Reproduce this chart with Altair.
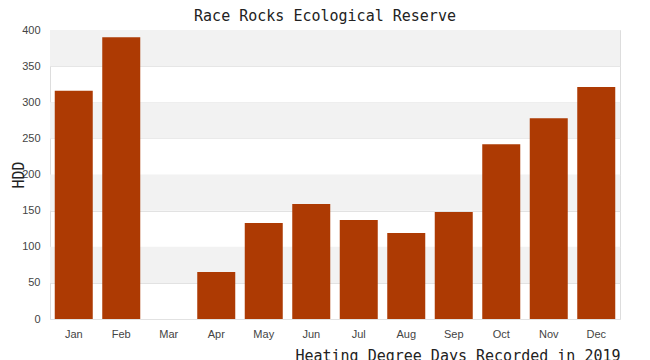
import altair as alt
import pandas as pd

months = ["Jan", "Feb", "Mar", "Apr", "May", "Jun", "Jul", "Aug", "Sep", "Oct", "Nov", "Dec"]
hdd = [316, 390, 0, 65, 133, 159, 137, 119, 148, 242, 278, 321]
y_ticks = [0, 50, 100, 150, 200, 250, 300, 350, 400]
band_lo = [50, 150, 250, 350]
band_hi = [100, 200, 300, 400]

df = pd.DataFrame({"month": months, "hdd": hdd})
bands = pd.DataFrame({"lo": band_lo, "hi": band_hi})

W, H = 570, 289
mono = "DejaVu Sans Mono"

yscale = alt.Scale(domain=[0, 400])
yaxis = alt.Axis(
    title="HDD",
    titleFont=mono,
    titleFontSize=15,
    titleFontWeight="normal",
    titleColor="#222",
    titleX=-32,
    titleY=H / 2,
    titleAngle=-90,
    titleAlign="center",
    titleBaseline="middle",
    values=y_ticks,
    labelOverlap=False,
    labelFont="Liberation Sans",
    labelFontSize=11,
    labelColor="#444",
    ticks=False,
    domain=False,
    labelPadding=10,
    grid=True,
    gridColor="#e2e2e2",
)

band_layer = alt.Chart(bands).mark_rect(color="#f2f2f2").encode(
    x=alt.value(0),
    x2=alt.value(W),
    y=alt.Y("lo:Q", scale=yscale, axis=yaxis),
    y2="hi:Q",
)

bars = alt.Chart(df).mark_bar(color="#ad3a03").encode(
    x=alt.X(
        "month:N",
        sort=months,
        scale=alt.Scale(paddingInner=0.2, paddingOuter=0.1),
        axis=alt.Axis(
            title="Heating Degree Days Recorded in 2019",
            titleFont=mono,
            titleFontSize=15,
            titleFontWeight="normal",
            titleColor="#222",
            titleAnchor="end",
            titleAlign="right",
            titleBaseline="alphabetic",
            titleX=W,
            titleY=41,
            labelAngle=0,
            labelFont="Liberation Sans",
            labelFontSize=11,
            labelColor="#444",
            ticks=False,
            domain=False,
            labelPadding=9,
        ),
    ),
    y=alt.Y("hdd:Q", scale=yscale, axis=yaxis),
)

chart = alt.layer(band_layer, bars).properties(
    width=W,
    height=H,
    title=alt.TitleParams(
        "Race Rocks Ecological Reserve",
        font=mono,
        fontSize=15,
        fontWeight="normal",
        color="#222",
        anchor="middle",
        dx=-10,
        offset=0,
    ),
    autosize=alt.AutoSizeParams(type="none"),
    padding={"left": 42, "top": 22, "right": 20, "bottom": 60},
).configure_view(stroke="#dddddd", strokeWidth=1)

chart.save("out.html", embed_options={"renderer": "svg", "actions": False})
